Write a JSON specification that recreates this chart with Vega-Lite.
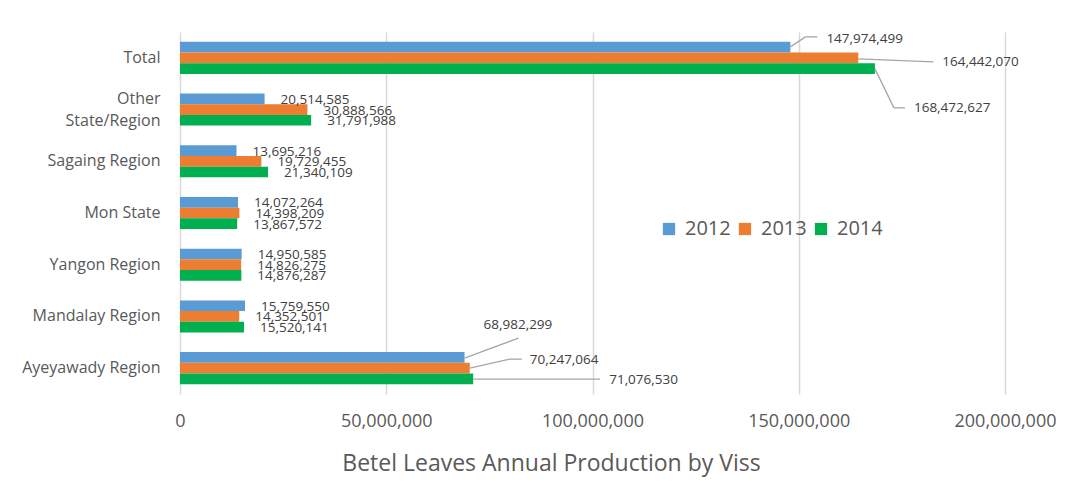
{
  "$schema": "https://vega.github.io/schema/vega-lite/v6.json",
  "width": 825,
  "height": 362,
  "autosize": {"type": "none"},
  "padding": {"left": 180, "top": 32, "right": 83, "bottom": 94},
  "background": "white",
  "config": {
    "font": "Open Sans",
    "view": {"stroke": null},
    "axis": {"labelColor": "#595959", "titleColor": "#595959", "labelFont": "Open Sans", "titleFont": "Open Sans"}
  },
  "data": {
    "values": [
      {"Region": "Total", "Year": "2012", "Value": 147974499},
      {"Region": "Total", "Year": "2013", "Value": 164442070},
      {"Region": "Total", "Year": "2014", "Value": 168472627},
      {"Region": "Other State/Region", "Year": "2012", "Value": 20514585},
      {"Region": "Other State/Region", "Year": "2013", "Value": 30888566},
      {"Region": "Other State/Region", "Year": "2014", "Value": 31791988},
      {"Region": "Sagaing Region", "Year": "2012", "Value": 13695216},
      {"Region": "Sagaing Region", "Year": "2013", "Value": 19729455},
      {"Region": "Sagaing Region", "Year": "2014", "Value": 21340109},
      {"Region": "Mon State", "Year": "2012", "Value": 14072264},
      {"Region": "Mon State", "Year": "2013", "Value": 14398209},
      {"Region": "Mon State", "Year": "2014", "Value": 13867572},
      {"Region": "Yangon Region", "Year": "2012", "Value": 14950585},
      {"Region": "Yangon Region", "Year": "2013", "Value": 14826275},
      {"Region": "Yangon Region", "Year": "2014", "Value": 14876287},
      {"Region": "Mandalay Region", "Year": "2012", "Value": 15759550},
      {"Region": "Mandalay Region", "Year": "2013", "Value": 14352501},
      {"Region": "Mandalay Region", "Year": "2014", "Value": 15520141},
      {"Region": "Ayeyawady Region", "Year": "2012", "Value": 68982299},
      {"Region": "Ayeyawady Region", "Year": "2013", "Value": 70247064},
      {"Region": "Ayeyawady Region", "Year": "2014", "Value": 71076530}
    ]
  },
  "encoding": {
    "y": {
      "field": "Region", "type": "nominal",
      "sort": ["Total", "Other State/Region", "Sagaing Region", "Mon State", "Yangon Region", "Mandalay Region", "Ayeyawady Region"],
      "scale": {"paddingInner": 0.38, "paddingOuter": 0.19},
      "axis": {"title": null, "ticks": false, "domain": false, "labelFontSize": 16, "labelPadding": 20,
               "labelExpr": "datum.value == 'Other State/Region' ? ['Other', 'State/Region'] : datum.value",
               "labelLineHeight": 22,
               "labelOffset": {"condition": {"test": "datum.value == 'Other State/Region'", "value": -11}, "value": 0}}
    },
    "x": {
      "field": "Value", "type": "quantitative",
      "scale": {"domain": [0, 200000000]},
      "axis": {"values": [0, 50000000, 100000000, 150000000, 200000000], "labelExpr": "format(datum.value, ',')",
               "labelFlush": false,
               "title": "Betel Leaves Annual Production by Viss",
               "titleFontSize": 23, "titleFontWeight": "normal", "titlePadding": 22, "titleX": 371, "titleAnchor": "middle", "titleAlign": "center",
               "labelFontSize": 18, "labelPadding": 18,
               "ticks": false, "domain": false, "gridColor": "#d9d9d9", "gridWidth": 1.5}
    }
  },
  "layer": [
    {
      "mark": {"type": "bar"},
      "encoding": {
        "yOffset": {"field": "Year", "type": "nominal", "sort": ["2012", "2013", "2014"]},
        "color": {
          "field": "Year", "type": "nominal",
          "scale": {"domain": ["2012", "2013", "2014"], "range": ["#5B9BD5", "#ED7D31", "#00B050"]},
          "legend": {"title": null, "orient": "none", "legendX": 479, "legendY": 187, "direction": "horizontal",
                     "symbolType": "square", "symbolSize": 150, "symbolStrokeWidth": 0, "labelFontSize": 20, "labelColor": "#595959",
                     "labelFont": "Open Sans", "columnPadding": 4, "labelOffset": 6}
        }
      }
    },
    {
      "transform": [{"filter": "datum.Region != 'Total' && datum.Region != 'Ayeyawady Region'"}],
      "mark": {"type": "text", "align": "left", "baseline": "middle", "dx": 16, "dy": 1, "fontSize": 13.5, "color": "#404040"},
      "encoding": {
        "yOffset": {"field": "Year", "type": "nominal", "sort": ["2012", "2013", "2014"]},
        "text": {"field": "Value", "type": "quantitative", "format": ","}
      }
    },
    {
      "transform": [{"filter": "datum.Region == 'Total' && datum.Year == '2012'"}],
      "layer": [
        {"mark": {"type": "rule", "color": "#a6a6a6", "strokeWidth": 1.3, "xOffset": 0, "x2Offset": 15, "yOffset": -11, "y2Offset": -21}, "encoding": {"x2": {"field": "Value"}, "y2": {"field": "Region"}}},
        {"mark": {"type": "rule", "color": "#a6a6a6", "strokeWidth": 1.3, "xOffset": 15, "x2Offset": 27, "yOffset": -21, "y2Offset": -21}, "encoding": {"x2": {"field": "Value"}, "y2": {"field": "Region"}}},
        {"mark": {"type": "text", "align": "left", "baseline": "middle", "dx": 36, "dy": -19, "fontSize": 13.5, "color": "#404040"}, "encoding": {"text": {"field": "Value", "type": "quantitative", "format": ","}}}
      ]
    },
    {
      "transform": [{"filter": "datum.Region == 'Total' && datum.Year == '2013'"}],
      "layer": [
        {"mark": {"type": "rule", "color": "#a6a6a6", "strokeWidth": 1.3, "xOffset": 0, "x2Offset": 75, "yOffset": 1, "y2Offset": 4}, "encoding": {"x2": {"field": "Value"}, "y2": {"field": "Region"}}},
        {"mark": {"type": "text", "align": "left", "baseline": "middle", "dx": 84, "dy": 4, "fontSize": 13.5, "color": "#404040"}, "encoding": {"text": {"field": "Value", "type": "quantitative", "format": ","}}}
      ]
    },
    {
      "transform": [{"filter": "datum.Region == 'Total' && datum.Year == '2014'"}],
      "layer": [
        {"mark": {"type": "rule", "color": "#a6a6a6", "strokeWidth": 1.3, "xOffset": 0, "x2Offset": 19, "yOffset": 11, "y2Offset": 50}, "encoding": {"x2": {"field": "Value"}, "y2": {"field": "Region"}}},
        {"mark": {"type": "rule", "color": "#a6a6a6", "strokeWidth": 1.3, "xOffset": 19, "x2Offset": 30, "yOffset": 50, "y2Offset": 50}, "encoding": {"x2": {"field": "Value"}, "y2": {"field": "Region"}}},
        {"mark": {"type": "text", "align": "left", "baseline": "middle", "dx": 39, "dy": 50, "fontSize": 13.5, "color": "#404040"}, "encoding": {"text": {"field": "Value", "type": "quantitative", "format": ","}}}
      ]
    },
    {
      "transform": [{"filter": "datum.Region == 'Ayeyawady Region' && datum.Year == '2012'"}],
      "layer": [
        {"mark": {"type": "rule", "color": "#a6a6a6", "strokeWidth": 1.3, "xOffset": 0, "x2Offset": 54, "yOffset": -10, "y2Offset": -30}, "encoding": {"x2": {"field": "Value"}, "y2": {"field": "Region"}}},
        {"mark": {"type": "text", "align": "left", "baseline": "middle", "dx": 19, "dy": -43, "fontSize": 13.5, "color": "#404040"}, "encoding": {"text": {"field": "Value", "type": "quantitative", "format": ","}}}
      ]
    },
    {
      "transform": [{"filter": "datum.Region == 'Ayeyawady Region' && datum.Year == '2013'"}],
      "layer": [
        {"mark": {"type": "rule", "color": "#a6a6a6", "strokeWidth": 1.3, "xOffset": 0, "x2Offset": 40, "yOffset": 0, "y2Offset": -9}, "encoding": {"x2": {"field": "Value"}, "y2": {"field": "Region"}}},
        {"mark": {"type": "rule", "color": "#a6a6a6", "strokeWidth": 1.3, "xOffset": 40, "x2Offset": 52, "yOffset": -9, "y2Offset": -9}, "encoding": {"x2": {"field": "Value"}, "y2": {"field": "Region"}}},
        {"mark": {"type": "text", "align": "left", "baseline": "middle", "dx": 60, "dy": -8, "fontSize": 13.5, "color": "#404040"}, "encoding": {"text": {"field": "Value", "type": "quantitative", "format": ","}}}
      ]
    },
    {
      "transform": [{"filter": "datum.Region == 'Ayeyawady Region' && datum.Year == '2014'"}],
      "layer": [
        {"mark": {"type": "rule", "color": "#a6a6a6", "strokeWidth": 1.3, "xOffset": 0, "x2Offset": 127, "yOffset": 11, "y2Offset": 11}, "encoding": {"x2": {"field": "Value"}, "y2": {"field": "Region"}}},
        {"mark": {"type": "text", "align": "left", "baseline": "middle", "dx": 136, "dy": 12, "fontSize": 13.5, "color": "#404040"}, "encoding": {"text": {"field": "Value", "type": "quantitative", "format": ","}}}
      ]
    }
  ]
}
